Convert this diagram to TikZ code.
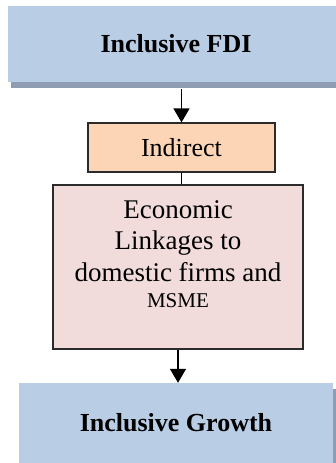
\documentclass[tikz,border=0pt]{standalone}
\usepackage{fontspec}
\setmainfont{Liberation Serif}
\usetikzlibrary{shadows,arrows.meta}
\definecolor{bluebox}{HTML}{B9CDE5}
\definecolor{blueshadow}{HTML}{8E9DB1}
\definecolor{peach}{HTML}{FBD5B5}
\definecolor{rosebox}{HTML}{F2DCDB}
\definecolor{edge}{HTML}{2B2B2B}
\tikzset{
  headbox/.style={rectangle, fill=bluebox, inner sep=0pt,
    drop shadow={shadow xshift=3pt, shadow yshift=-6pt, fill=blueshadow, opacity=1},
    font=\fontsize{26}{30}\selectfont\bfseries},
  midbox/.style={rectangle, draw=edge, line width=1.2pt, inner sep=0pt},
  flow/.style={line width=1.3pt, -{Triangle[width=16pt,length=14pt]}},
  link/.style={line width=1.3pt}
}
\begin{document}
\begin{tikzpicture}[x=1pt,y=1pt]
\useasboundingbox (0,0) rectangle (336,-463);
% top and bottom banners
\node[headbox, minimum width=336pt, minimum height=76pt] (fdi) at (176,-44) {Inclusive FDI};
\node[headbox, minimum width=314pt, minimum height=80pt] (gro) at (176,-423) {Inclusive Growth};
% intermediate boxes
\node[midbox, fill=peach, minimum width=187pt, minimum height=49pt,
      font=\fontsize{26}{30}\selectfont] (ind) at (181.5,-147.5) {Indirect};
\node[midbox, fill=rosebox, minimum width=250pt, minimum height=164pt] (eco) at (178,-267) {};
\node[anchor=north, align=center, inner sep=0pt, font=\fontsize{27}{31.5}\selectfont]
  (ecotext) at ([yshift=-16pt]eco.north)
  {Economic\\Linkages to\\domestic firms and\\[-5pt]{\fontsize{21}{25}\selectfont MSME}};
% connectors
\draw[flow] ([yshift=-7pt]fdi.south -| ind.north) -- (ind.north);
\draw[link] (ind.south) -- (eco.north -| ind.south);
\draw[flow] (eco.south) -- (eco.south |- gro.north);
\end{tikzpicture}
\end{document}
